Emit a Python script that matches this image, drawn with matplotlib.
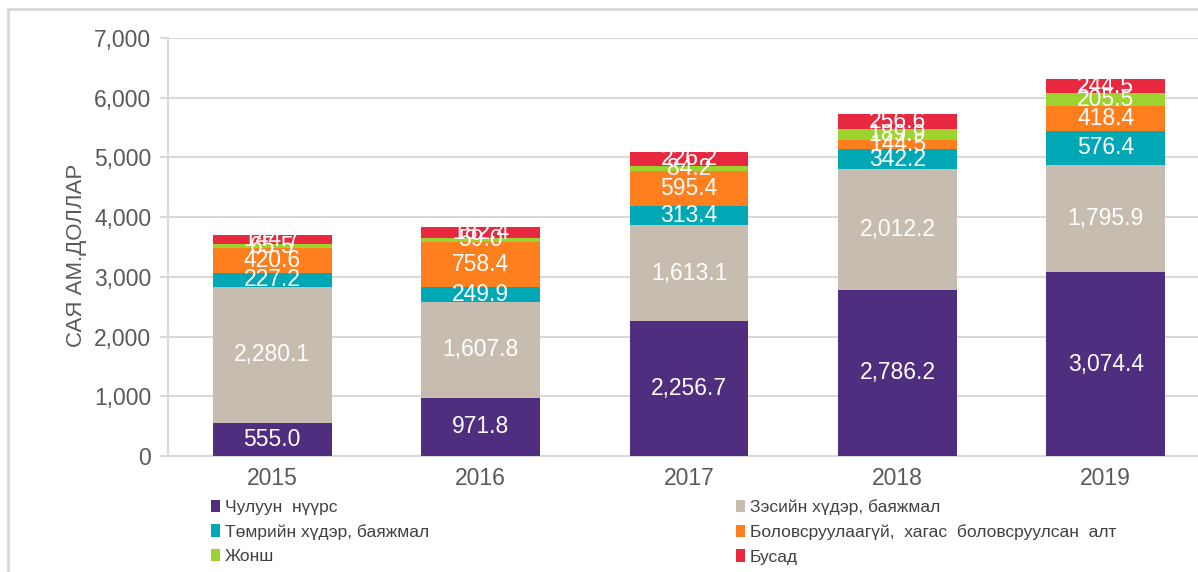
import matplotlib
matplotlib.use("Agg")
import matplotlib.pyplot as plt
from matplotlib import font_manager
from matplotlib.patches import Rectangle, Patch
import numpy as np

# ── Data ─────────────────────────────────────────────────────────────
years = ["2015", "2016", "2017", "2018", "2019"]

coal = [555.0, 971.8, 2256.7, 2786.2, 3074.4]
copper = [2280.1, 1607.8, 1613.1, 2012.2, 1795.9]
iron = [227.2, 249.9, 313.4, 342.2, 576.4]
gold = [420.6, 758.4, 595.4, 144.5, 418.4]
fluorspar = [65.5, 59.0, 84.2, 189.9, 205.5]
other = [144.7, 182.4, 226.2, 256.6, 244.5]

series_names = [
    "Чулуун  нүүрс",
    "Зэсийн хүдэр, баяжмал",
    "Төмрийн хүдэр, баяжмал",
    "Боловсруулаагүй,  хагас  боловсруулсан  алт",
    "Жонш",
    "Бусад",
]
series = [coal, copper, iron, gold, fluorspar, other]
colors = ["#4f2d7f", "#c6bdb0", "#00a7b5", "#ff7f1f", "#9dd32f", "#e8283f"]

y_label = "САЯ АМ.ДОЛЛАР"

# ── Fonts ────────────────────────────────────────────────────────────
installed = {f.name for f in font_manager.fontManager.ttflist}
base_font = "Liberation Sans" if "Liberation Sans" in installed else "DejaVu Sans"
narrow_font = "Liberation Sans Narrow" if "Liberation Sans Narrow" in installed else base_font
plt.rcParams["font.family"] = [base_font, "DejaVu Sans"]

GRAY = "#595959"
GRID = "#d9d9d9"

fig = plt.figure(figsize=(11.98, 5.72), dpi=100)
ax = fig.add_axes([168 / 1198, 1 - 456 / 572, 1042 / 1198, 418 / 572])

x = np.arange(len(years))
bottom = np.zeros(len(years))
for vals, col in zip(series, colors):
    vals = np.array(vals)
    ax.bar(x, vals, width=0.57, bottom=bottom, color=col, zorder=3)
    for xi, b, v in zip(x, bottom, vals):
        ax.text(xi, b + v / 2, f"{v:,.1f}", ha="center", va="center",
                color="white", fontsize=16.5, zorder=4)
    bottom += vals

ax.set_xlim(-0.5, len(years) - 0.5)
ax.set_ylim(0, 7000)
ax.set_yticks(np.arange(0, 7001, 1000))
ax.set_yticklabels([f"{v:,}" for v in range(0, 7001, 1000)])
ax.set_xticks(x)
ax.set_xticklabels(years)
ax.tick_params(axis="y", colors=GRID, labelcolor=GRAY, labelsize=16.5,
               length=6, width=1.5, pad=6)
ax.tick_params(axis="x", length=0, labelcolor=GRAY, labelsize=16.5, pad=8)
ax.grid(axis="y", color=GRID, linewidth=1.5, zorder=0)
for s in ["top", "right"]:
    ax.spines[s].set_visible(False)
for s in ["left", "bottom"]:
    ax.spines[s].set_color(GRID)
    ax.spines[s].set_linewidth(1.5)

ax.set_ylabel(y_label, color=GRAY, fontsize=16)
ax.yaxis.set_label_coords(-0.078, 0.48)

# ── Legend (two columns) ─────────────────────────────────────────────
handles = [Patch(facecolor=c, edgecolor="none") for c in colors]
leg_kw = dict(frameon=False, handlelength=0.55, handleheight=0.7,
              handletextpad=0.25, labelspacing=0.52, labelcolor="#404040",
              prop={"family": narrow_font, "size": 12.5})
fig.legend([handles[0], handles[2], handles[4]],
           [series_names[0], series_names[2], series_names[4]],
           loc="upper left", bbox_to_anchor=(195 / 1198, 1 - 484 / 572), **leg_kw)
fig.legend([handles[1], handles[3], handles[5]],
           [series_names[1], series_names[3], series_names[5]],
           loc="upper left", bbox_to_anchor=(720 / 1198, 1 - 484 / 572), **leg_kw)

# outer frame
fig.patches.append(Rectangle((8 / 1198, -0.1), 1.2, 1 - 9 / 572 + 0.1,
                             transform=fig.transFigure, fill=False,
                             edgecolor=GRID, linewidth=2))

fig.savefig("out.png", dpi=100)
